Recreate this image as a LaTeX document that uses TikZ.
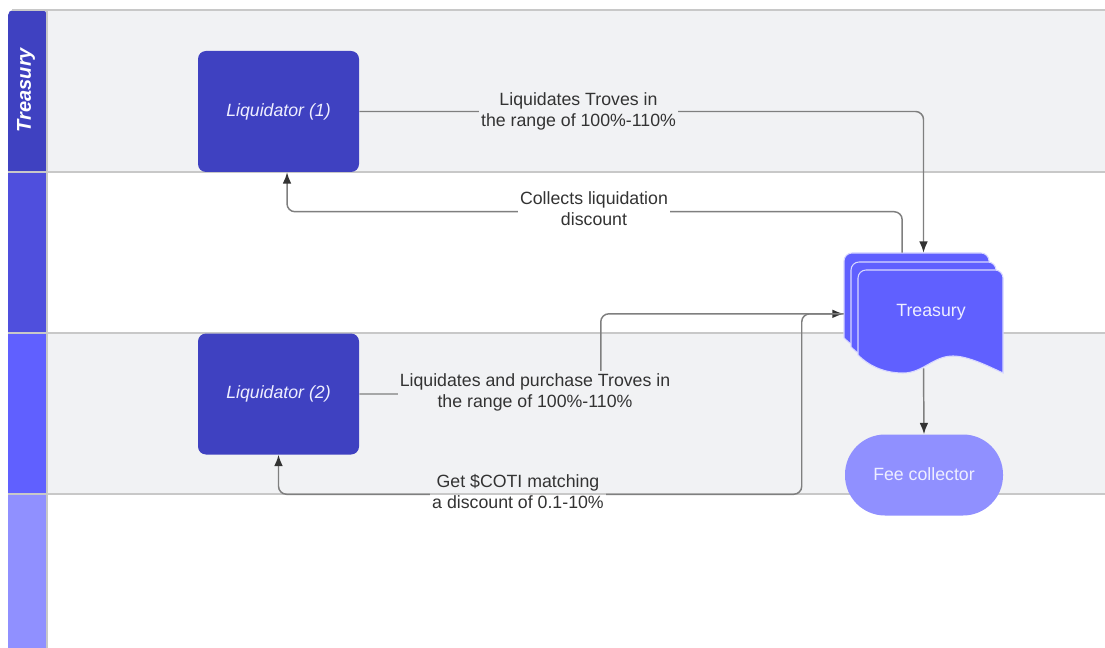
\documentclass[tikz,border=0pt]{standalone}
\usepackage{fontspec}
\setmainfont{Liberation Sans}
\usetikzlibrary{arrows.meta,calc}
\definecolor{lanegray}{HTML}{F1F2F4}
\definecolor{lanelinec}{HTML}{C8C8C8}
\definecolor{hdrA}{HTML}{3F41C1}
\definecolor{hdrB}{HTML}{4F4FDD}
\definecolor{hdrC}{HTML}{6060FF}
\definecolor{hdrD}{HTML}{9090FF}
\definecolor{connc}{HTML}{7F7F7F}
\definecolor{tipc}{HTML}{333333}
\definecolor{shapetext}{HTML}{EEEEFF}
\definecolor{sheetedge}{HTML}{D8D8FF}
\definecolor{lbltext}{HTML}{333333}
\begin{document}
\begin{tikzpicture}[x=0.75pt,y=-0.75pt,
  liqbox/.style={rectangle, rounded corners=6pt, fill=hdrA, minimum width=120.75pt, minimum height=90.75pt, text=shapetext, font=\fontsize{13.3}{16}\selectfont\itshape},
  lbl/.style={align=center, font=\fontsize{13.3}{15.75}\selectfont, text=lbltext, inner sep=1.5pt},
  conn/.style={draw=connc, line width=1.1pt, rounded corners=6pt},
  arr/.style={conn, -{Latex[length=8.5pt,width=6.5pt,color=tipc]}},
  laneline/.style={draw=lanelinec, line width=1.5pt},
  sheet/.style={fill=hdrC, draw=sheetedge, line width=0.8pt}
]
\useasboundingbox (0,0) rectangle (1105,648);
\fill[white] (0,0) rectangle (1105,648);
% lanes
\fill[lanegray] (47,10) rectangle (1105,172);
\fill[lanegray] (47,333) rectangle (1105,494);
\fill[hdrA, rounded corners=4pt] (8,172) |- (47,10) [sharp corners] -- (47,172) -- cycle;
\fill[hdrB] (8,172) rectangle (47,333);
\fill[hdrC] (8,333) rectangle (47,494);
\fill[hdrD] (8,494) rectangle (47,648);
\draw[laneline] (12,10) -- (1105,10);
\draw[laneline] (8,172) -- (1105,172);
\draw[laneline] (8,333) -- (1105,333);
\draw[laneline] (8,494) -- (1105,494);
\draw[laneline] (47,10) -- (47,648);
\node[rotate=90, text=white, font=\fontsize{15}{18}\selectfont\bfseries\itshape] (hdr) at (26,90) {Treasury};

% nodes
\node[liqbox] (liq1) at (278.5,111.5) {Liquidator (1)};
\node[liqbox] (liq2) at (278.5,394) {Liquidator (2)};

% treasury multi-document
\foreach \x/\y in {844/253, 851/262, 858/270}{
  \path[sheet] (\x,\y+85) [rounded corners=6pt] -- (\x,\y) -- (\x+145,\y) [sharp corners] -- (\x+145,\y+103)
    .. controls (\x+130,\y+96) and (\x+110,\y+86) .. (\x+95,\y+86)
    .. controls (\x+75,\y+86) and (\x+65,\y+103) .. (\x+45,\y+103)
    .. controls (\x+25,\y+103) and (\x+10,\y+95) .. (\x,\y+85) -- cycle;
}
\node[rectangle, minimum width=119.25pt, minimum height=89.25pt, inner sep=0pt] (treas) at (923.5,312.5) {};
\node[text=shapetext, font=\fontsize{13.3}{16}\selectfont] (treaslbl) at (931,312.5) {Treasury};

\node[rectangle, rounded corners=30pt, fill=hdrD, minimum width=118.5pt, minimum height=60.75pt, text=shapetext, font=\fontsize{13.3}{16}\selectfont] (fee) at (924,475) {\raisebox{2pt}{Fee collector}};

% connectors
\draw[arr] (liq1.east) -| (treas.north);
\node[lbl, fill=lanegray] (l1) at (578.5,111) {Liquidates Troves in\\the range of 100\%-110\%};

\draw[arr] ([xshift=-16pt]treas.north) -- ++(0,-41) -| ([xshift=6.4pt]liq1.south);
\node[lbl, fill=white] (l2) at (594,209) {Collects liquidation\\discount};

\draw[arr] (liq2.east) -- ($(liq2.east)+(241.5,0)$) |- ([yshift=-1pt]treas.west);
\node[lbl, fill=lanegray] (l3) at (535,392) {Liquidates and purchase Troves in\\the range of 100\%-110\%};

\draw[arr] ([yshift=-1pt]treas.west) -- ++(-42,0) |- ($(liq2.south)+(0,39.5)$) -- (liq2.south);
\node[lbl, fill=lanegray, path picture={\fill[white] ([yshift=-1.5pt]path picture bounding box.west) rectangle (path picture bounding box.south east);}] (l4) at (518,492) {Get \$COTI matching\\a discount of 0.1-10\%};
\draw[laneline] (l4.west |- 0,494) -- (l4.east |- 0,494);

\draw[arr] ([yshift=3pt]treas.south) -- (fee.north);
\end{tikzpicture}
\end{document}
